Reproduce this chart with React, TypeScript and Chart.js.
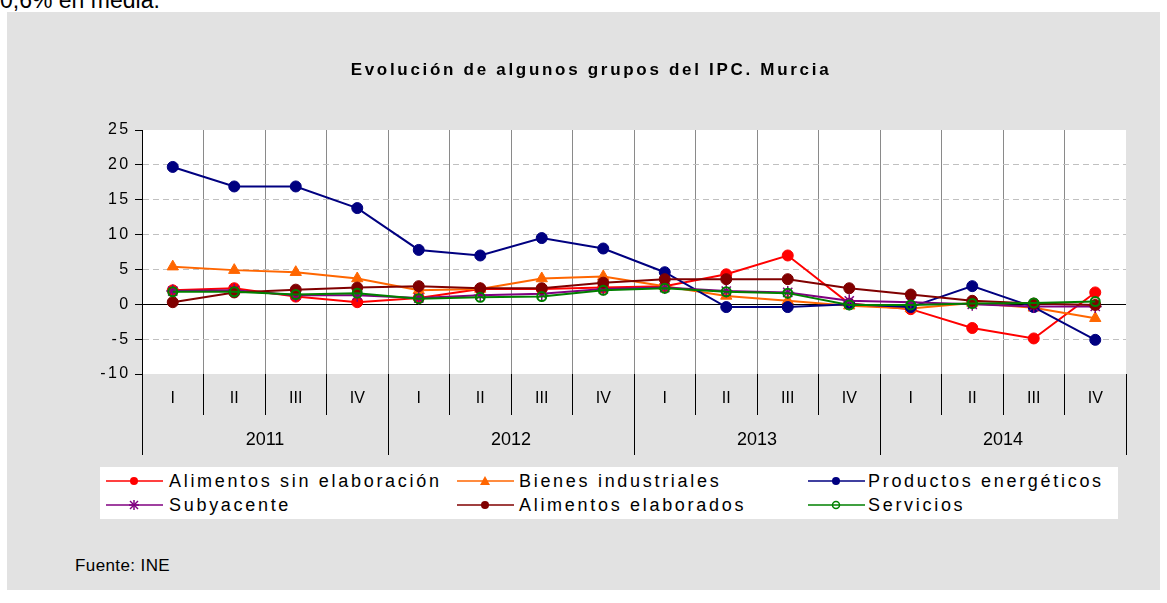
import React, { useEffect, useRef } from 'react';
import { Chart, registerables } from 'chart.js';

Chart.register(...registerables);

const FONT = '"Liberation Sans", Arial, sans-serif';
Chart.defaults.font.family = FONT;

const quarterLabels = ['I', 'II', 'III', 'IV', 'I', 'II', 'III', 'IV', 'I', 'II', 'III', 'IV', 'I', 'II', 'III', 'IV'];
const yearLabels = ['2011', '2012', '2013', '2014'];
const yMin = -10;
const yMax = 25;
const yStep = 5;

const seriesNames = [
  'Alimentos sin elaboración',
  'Bienes industriales',
  'Productos energéticos',
  'Subyacente',
  'Alimentos elaborados',
  'Servicios',
];

const alimentosSinElaboracion = [2.0, 2.3, 1.1, 0.3, 0.9, 2.2, 2.2, 2.4, 2.6, 4.3, 7.0, 0.1, -0.7, -3.4, -4.9, 1.7];
const bienesIndustriales = [5.4, 4.9, 4.6, 3.7, 2.0, 2.2, 3.7, 4.0, 2.6, 1.2, 0.5, -0.2, -0.6, 0.2, -0.5, -2.0];
const productosEnergeticos = [19.7, 16.9, 16.9, 13.8, 7.8, 7.0, 9.5, 8.0, 4.6, -0.4, -0.4, 0.0, -0.4, 2.6, -0.4, -5.1];
const subyacente = [1.9, 2.0, 1.3, 1.3, 0.9, 1.3, 1.5, 2.2, 2.4, 1.9, 1.7, 0.5, 0.3, 0.0, -0.3, -0.3];
const alimentosElaborados = [0.3, 1.7, 2.1, 2.4, 2.6, 2.3, 2.3, 3.1, 3.6, 3.6, 3.6, 2.3, 1.4, 0.5, 0.1, -0.1];
const servicios = [1.8, 1.8, 1.4, 1.6, 0.8, 1.0, 1.1, 2.0, 2.3, 1.8, 1.6, -0.1, -0.1, 0.1, 0.2, 0.4];

const seriesData = [alimentosSinElaboracion, bienesIndustriales, productosEnergeticos, subyacente, alimentosElaborados, servicios];

type Style = { color: string; marker: 'circle' | 'triangle' | 'star' | 'open'; order: number };
const seriesStyles: Style[] = [
  { color: '#ff0000', marker: 'circle', order: 5 },
  { color: '#ff6600', marker: 'triangle', order: 4 },
  { color: '#000080', marker: 'circle', order: 3 },
  { color: '#800080', marker: 'star', order: 2 },
  { color: '#800000', marker: 'circle', order: 1 },
  { color: '#008000', marker: 'open', order: 0 },
];

const clear = 'rgba(0,0,0,0)';

const chartPlugin = {
  id: 'customLook',
  beforeDraw(chart: any) {
    const ctx = chart.ctx;
    ctx.letterSpacing = '0px';
    const { left, top, width, height } = chart.chartArea;
    ctx.save();
    ctx.fillStyle = '#ffffff';
    ctx.fillRect(left, top, width, height);
    ctx.restore();
  },
  beforeDatasetsDraw(chart: any) {
    // zero reference line, placed by the y scale
    const ctx = chart.ctx;
    const y = Math.round(chart.scales.y.getPixelForValue(0)) + 0.5;
    const { left, right } = chart.chartArea;
    ctx.save();
    ctx.strokeStyle = '#000';
    ctx.lineWidth = 1;
    ctx.setLineDash([]);
    ctx.beginPath();
    ctx.moveTo(left, y);
    ctx.lineTo(right, y);
    ctx.stroke();
    ctx.restore();
  },
  afterDatasetsDraw(chart: any) {
    chart.ctx.letterSpacing = '2.4px';
  },
  afterDraw(chart: any) {
    chart.ctx.letterSpacing = '0px';
  },
};

function LegendMarker({ s }: { s: Style }) {
  const cx = 28;
  const cy = 7;
  let m: React.ReactNode = null;
  if (s.marker === 'circle') m = <circle cx={cx} cy={cy} r={4} fill={s.color} />;
  if (s.marker === 'open') m = <circle cx={cx} cy={cy} r={3.5} fill="none" stroke={s.color} strokeWidth={1.5} />;
  if (s.marker === 'triangle') m = <polygon points={`${cx - 5},${cy + 4} ${cx + 5},${cy + 4} ${cx},${cy - 5}`} fill={s.color} />;
  if (s.marker === 'star')
    m = (
      <g stroke={s.color} strokeWidth={1.5}>
        <line x1={cx - 5} y1={cy} x2={cx + 5} y2={cy} />
        <line x1={cx - 4} y1={cy - 4} x2={cx + 4} y2={cy + 4} />
        <line x1={cx - 4} y1={cy + 4} x2={cx + 4} y2={cy - 4} />
        <line x1={cx} y1={cy - 5} x2={cx} y2={cy + 5} />
      </g>
    );
  return (
    <svg width={57} height={14} style={{ position: 'absolute', left: 0, top: 0 }}>
      <line x1={0} y1={cy} x2={57} y2={cy} stroke={s.color} strokeWidth={1.5} />
      {m}
    </svg>
  );
}

export default function App() {
  const ref = useRef<HTMLCanvasElement>(null);

  useEffect(() => {
    const canvas = ref.current;
    if (!canvas) return;
    const datasets = seriesNames.map((name, i) => {
      const s = seriesStyles[i];
      const filled = s.marker !== 'open';
      return {
        label: name,
        data: seriesData[i],
        borderColor: s.color,
        backgroundColor: s.color,
        borderWidth: 2,
        pointStyle: s.marker === 'open' ? 'circle' : s.marker,
        pointRadius: s.marker === 'circle' ? 5.5 : s.marker === 'open' ? 4.5 : 6.5,
        pointBackgroundColor: filled ? s.color : clear,
        pointBorderColor: s.color,
        pointBorderWidth: s.marker === 'open' ? 2 : s.marker === 'star' ? 1.5 : 1,
        tension: 0,
        fill: false,
        order: s.order,
      };
    });

    const chart = new Chart(canvas, {
      type: 'line',
      data: { labels: quarterLabels, datasets: datasets as any },
      options: {
        responsive: false,
        animation: false,
        devicePixelRatio: 1,
        layout: { padding: { left: 0, right: 34, top: 118, bottom: 12 } },
        plugins: {
          legend: { display: false },
          tooltip: { enabled: false },
          title: { display: false },
        },
        scales: {
          x: {
            type: 'category',
            position: 'bottom',
            weight: 0,
            offset: true,
            grid: {
              offset: true,
              color: (c: any) => (c.type === 'tick' ? '#8a8a8a' : clear),
              tickColor: '#000',
              tickLength: 41,
              lineWidth: 1,
            },
            border: { display: false },
            ticks: { color: '#000', font: { size: 16 }, padding: -26, maxRotation: 0, autoSkip: false },
            afterFit: (s: any) => {
              s.height = 41;
            },
          },
          x2: {
            type: 'category',
            labels: yearLabels,
            position: 'bottom',
            weight: 1,
            offset: true,
            grid: {
              offset: true,
              drawOnChartArea: false,
              color: clear,
              tickColor: '#000',
              tickLength: 40,
            },
            border: { display: false },
            ticks: { color: '#000', font: { size: 18 }, padding: -26, maxRotation: 0, autoSkip: false },
            afterFit: (s: any) => {
              s.height = 40;
            },
          },
          y: {
            min: yMin,
            max: yMax,
            ticks: { stepSize: yStep, color: '#000', font: { size: 16 }, padding: 4.5, z: 1 },
            grid: {
              color: (c: any) => {
                const v = c.tick ? c.tick.value : null;
                if (v === yMin || v === yMax || v === 0) return clear;
                return '#c0c0c0';
              },
              tickBorderDash: [],
              tickColor: '#000',
              tickLength: 7,
              lineWidth: 1,
            },
            border: { display: true, color: '#000', width: 1, dash: [6, 4] },
            afterFit: (s: any) => {
              s.width = 135;
            },
          },
        },
      } as any,
      plugins: [chartPlugin],
    });
    return () => chart.destroy();
  }, []);

  const legendCols = [
    { line: 6, text: 69 },
    { line: 357, text: 419 },
    { line: 708, text: 768 },
  ];
  const legendRows = [14, 38];

  return (
    <div style={{ position: 'absolute', left: 0, top: 0, width: 1167, height: 603, overflow: 'hidden', fontFamily: FONT, color: '#000' }}>
      <div style={{ position: 'absolute', left: 0, top: -11, fontSize: 23, lineHeight: '23px', whiteSpace: 'nowrap' }}>0,6% en media.</div>
      <div style={{ position: 'absolute', left: 7, top: 12, width: 1153, height: 578, background: '#e2e2e2' }}>
        <canvas ref={ref} width={1153} height={455} style={{ position: 'absolute', left: 0, top: 0, display: 'block' }} />
        <div
          style={{
            position: 'absolute',
            left: 584,
            top: 48,
            transform: 'translateX(-50%)',
            fontSize: 17,
            fontWeight: 'bold',
            lineHeight: '20px',
            letterSpacing: '2.7px',
            whiteSpace: 'nowrap',
          }}
        >
          Evolución de algunos grupos del IPC. Murcia
        </div>
        <div style={{ position: 'absolute', left: 93, top: 455, width: 1018, height: 52, background: '#fff' }}>
          {seriesNames.map((name, i) => {
            const col = legendCols[i % 3];
            const row = legendRows[Math.floor(i / 3)];
            return (
              <React.Fragment key={name}>
                <div style={{ position: 'absolute', left: col.line, top: row - 7, width: 57, height: 14 }}>
                  <LegendMarker s={seriesStyles[i]} />
                </div>
                <div
                  style={{
                    position: 'absolute',
                    left: col.text,
                    top: row - 10,
                    fontSize: 18,
                    lineHeight: '20px',
                    letterSpacing: '2.7px',
                    whiteSpace: 'nowrap',
                  }}
                >
                  {name}
                </div>
              </React.Fragment>
            );
          })}
        </div>
        <div style={{ position: 'absolute', left: 68, top: 544, fontSize: 17, lineHeight: '20px', letterSpacing: '0.4px', whiteSpace: 'nowrap' }}>
          Fuente: INE
        </div>
      </div>
    </div>
  );
}
